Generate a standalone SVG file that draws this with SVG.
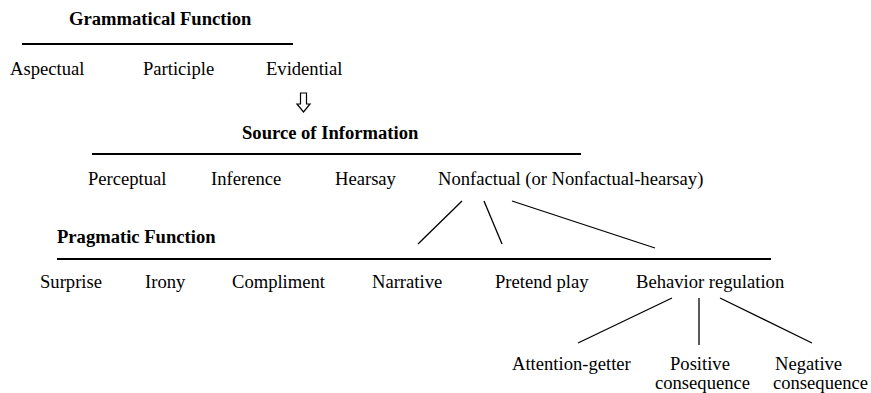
<svg xmlns="http://www.w3.org/2000/svg" width="871" height="393" viewBox="0 0 871 393">
<style>
text{font-family:"Liberation Serif","Times New Roman",serif;font-size:18.6px;fill:#000}
.b{font-weight:bold}
line{stroke:#000;stroke-width:1.3}
.rule{stroke-width:2}
</style>
<rect width="871" height="393" fill="#fff"/>
<g id="grammatical">
<text class="b" x="69" y="25">Grammatical Function</text>
<line class="rule" x1="22" y1="44" x2="293" y2="44"/>
<text x="10" y="75">Aspectual</text>
<text x="143" y="75">Participle</text>
<text x="266" y="75">Evidential</text>
</g>
<g id="arrow">
<path d="M300.5,93 H306.5 V104 H310 L303.5,112 L297,104 H300.5 Z" fill="none" stroke="#000" stroke-width="1.2"/>
</g>
<g id="source">
<text class="b" x="242" y="139">Source of Information</text>
<line class="rule" x1="92" y1="154" x2="581" y2="154"/>
<text x="88" y="185">Perceptual</text>
<text x="211" y="185">Inference</text>
<text x="335" y="185">Hearsay</text>
<text x="438" y="185">Nonfactual (or Nonfactual-hearsay)</text>
</g>
<g id="pragmatic">
<text class="b" x="57" y="243">Pragmatic Function</text>
<line class="rule" x1="57" y1="259" x2="771" y2="259"/>
<text x="40" y="288">Surprise</text>
<text x="145" y="288">Irony</text>
<text x="232" y="288">Compliment</text>
<text x="372" y="288">Narrative</text>
<text x="495" y="288">Pretend play</text>
<text x="636" y="288">Behavior regulation</text>
</g>
<g id="behavior">
<text x="512" y="370">Attention-getter</text>
<text x="670" y="370">Positive</text>
<text x="655" y="389">consequence</text>
<text x="775" y="370">Negative</text>
<text x="773" y="389">consequence</text>
</g>
<g id="connectors">
<line x1="462" y1="201" x2="418" y2="244"/>
<line x1="484" y1="201" x2="502" y2="244"/>
<line x1="512" y1="201" x2="655" y2="248"/>
<line x1="672" y1="298" x2="578" y2="343"/>
<line x1="699" y1="298" x2="699" y2="345"/>
<line x1="720" y1="298" x2="812" y2="343"/>
</g>
</svg>
